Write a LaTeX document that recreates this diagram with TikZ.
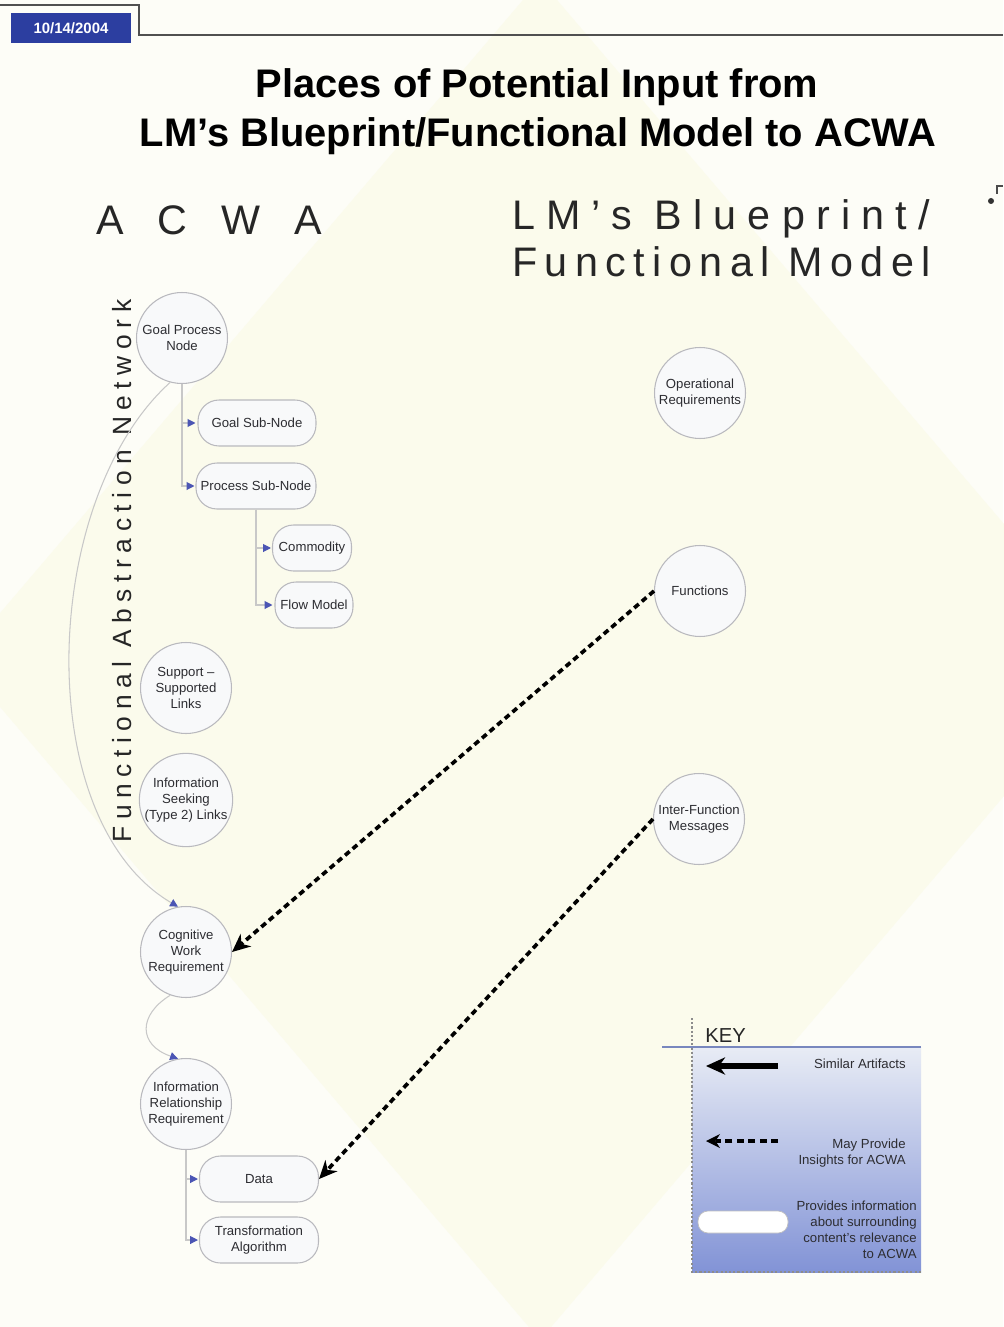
\documentclass[tikz,border=0pt]{standalone}
\usepackage{fontspec}
\setmainfont{Liberation Sans}
\newfontfamily\spacedA[LetterSpace=27]{Liberation Sans}
\newfontfamily\spacedB[LetterSpace=18]{Liberation Sans}
\newfontfamily\spacedC[LetterSpace=25]{Liberation Sans}
\usetikzlibrary{arrows.meta,calc}
\definecolor{pagebg}{RGB}{253,253,247}
\definecolor{diam}{RGB}{251,251,236}
\definecolor{circfill}{RGB}{248,249,250}
\definecolor{circdraw}{RGB}{185,185,190}
\definecolor{treeline}{RGB}{200,200,200}
\definecolor{treeblue}{RGB}{75,85,180}
\definecolor{txt}{RGB}{45,45,50}
\definecolor{dateblue}{RGB}{44,62,160}
\definecolor{headline}{RGB}{80,80,80}
\definecolor{keytop}{RGB}{232,236,245}
\definecolor{keymid}{RGB}{196,205,236}
\definecolor{keybot}{RGB}{130,147,214}
\definecolor{keyline}{RGB}{120,135,190}
\tikzset{
  circ/.style={circle, draw=circdraw, line width=0.6pt, fill=circfill, minimum size=1.82cm, inner sep=0pt, align=center, font=\fontsize{7.5}{9}\selectfont, text=txt},
  pill/.style={rectangle, rounded corners=0.42cm, draw=circdraw, line width=0.6pt, fill=circfill, minimum height=0.92cm, inner sep=1pt, align=center, font=\fontsize{7.5}{9}\selectfont, text=txt},
  tree/.style={draw=treeline, line width=0.6pt, -{Triangle[length=4.5pt,width=4.5pt,color=treeblue]}},
  insight/.style={draw=black, line width=2.1pt, dash pattern=on 3.4pt off 2.3pt, -{Stealth[length=10.5pt,width=9.5pt,line width=0pt]}},
  keytext/.style={font=\fontsize{7.5}{9}\selectfont, text=txt, align=right, inner sep=0pt},
  heading/.style={font=\fontsize{23.5}{28}\selectfont, text=black!85, inner sep=0pt}
}
\begin{document}
\begin{tikzpicture}[x=0.02cm,y=-0.02cm]
\useasboundingbox (0,0) rectangle (1003,1327);
\fill[pagebg] (0,0) rectangle (1003,1327);
\fill[diam] (540,-20) -- (1120,660) -- (540,1340) -- (-40,660) -- cycle;

% header
\draw[headline, line width=1pt] (0,5) -- (139,5) -- (139,35) -- (1003,35);
\node[fill=dateblue, minimum width=2.4cm, minimum height=0.6cm, inner sep=0pt, text=white, font=\bfseries\fontsize{8.5}{10}\selectfont] (date) at (71,28) {10/14/2004};

% title
\node[anchor=base, inner sep=0pt, font=\bfseries\fontsize{22.7}{27}\selectfont] (t1) at (537,98) {Places of Potential Input from};
\node[anchor=base, inner sep=0pt, font=\bfseries\fontsize{22.7}{27}\selectfont] (t2) at (538,147) {LM’s Blueprint/Functional Model to ACWA};

% column headings
\node[heading, anchor=base west] (hacwa) at (96,235) {\spacedA A\kern6.4pt\ C\kern6.4pt\ W\kern6.4pt\ A};
\node[heading, anchor=base west] (hlm1) at (512,230) {\spacedA LM’s Blueprint/};
\node[heading, anchor=base west] (hlm2) at (512,277) {\spacedB Functional Model};
\node[rotate=90, anchor=base, inner sep=0pt, text=black!85, font=\fontsize{15}{18}\selectfont] (hfan) at (131,571) {\spacedC Functional Abstraction Network};

% top-right mark
\fill[black!80] (991,201) circle (3);
\draw[black!70, line width=0.8pt] (997,194) -- (997,186) -- (1003,186);

% ACWA nodes
\node[circ] (gp) at (182,338) {Goal Process\\Node};
\node[pill, minimum width=2.36cm] (gsn) at (257,423) {Goal Sub-Node};
\node[pill, minimum width=2.4cm] (psn) at (256,486) {Process Sub-Node};
\node[pill, minimum width=1.58cm] (com) at (312,548) {Commodity};
\node[pill, minimum width=1.56cm] (flow) at (314,605) {Flow Model};
\node[circ] (ssl) at (186,688) {Support –\\Supported\\Links};
\node[circ] (isl) at (186,800) {Information\\Seeking\\(Type 2) Links};
\node[circ] (cwr) at (186,952) {Cognitive\\Work\\Requirement};
\node[circ] (irr) at (186,1104) {Information\\Relationship\\Requirement};
\node[pill, minimum width=2.38cm] (data) at (259,1179) {Data};
\node[pill, minimum width=2.38cm] (ta) at (259,1240) {Transformation\\Algorithm};

% LM nodes
\node[circ] (opr) at (700,393) {Operational\\Requirements};
\node[circ] (fun) at (700,591) {Functions};
\node[circ] (ifm) at (699,819) {Inter-Function\\Messages};

% tree connectors
\draw[tree] (gp.south) |- ($(gsn.west)+(-2,0)$);
\draw[tree] (gp.south) |- ($(psn.west)+(-1,0)$);
\draw[tree] (psn.south) |- ($(com.west)+(-1,0)$);
\draw[tree] (psn.south) |- ($(flow.west)+(-2,0)$);
\draw[tree] (irr.south) |- ($(data.west)+(-1,0)$);
\draw[tree] (irr.south) |- ($(ta.west)+(-1,0)$);

% curved connectors
\draw[tree] (gp.255) .. controls (40,500) and (30,820) .. (cwr.100);
\draw[tree] (cwr.250) .. controls (138,1015) and (138,1045) .. (irr.100);

% dashed insight arrows
\draw[insight] (fun.west) -- (cwr.east);
\draw[insight] (ifm.west) -- (data.east);

% key
\shade[top color=keytop, middle color=keymid, bottom color=keybot] (692,1047) rectangle (921,1272);
\draw[keyline, line width=1.2pt] (662,1047) -- (921,1047);
\draw[black!45, line width=0.7pt, dash pattern=on 1.2pt off 1.2pt] (692,1018) -- (692,1272) -- (921,1272);
\node[anchor=base west, inner sep=0pt, font=\fontsize{11.5}{13}\selectfont, text=black!85] (keyt) at (705,1042) {KEY};
\coordinate (k1s) at (778,1066);
\coordinate (k1e) at (706,1066);
\draw[black, line width=3pt, -{Stealth[length=11pt,width=10pt,line width=0pt]}] (k1s) -- (k1e);
\node[keytext, anchor=base east] (k1t) at (906,1068) {Similar Artifacts};
\coordinate (k2s) at (778,1141);
\coordinate (k2e) at (706,1141);
\draw[black, line width=1.8pt, dash pattern=on 4pt off 2.5pt, -{Stealth[length=8pt,width=8pt,line width=0pt]}] (k2s) -- (k2e);
\node[keytext, anchor=north east] (k2t) at (906,1139) {May Provide\\Insights for ACWA};
\node[rectangle, rounded corners=0.2cm, draw=black!25, fill=white, minimum width=1.8cm, minimum height=0.44cm, inner sep=0pt] (kpill) at (743,1222) {};
\node[keytext, anchor=north east] (k3t) at (917,1201) {Provides information\\about surrounding\\content’s relevance\\to ACWA};
\end{tikzpicture}
\end{document}
